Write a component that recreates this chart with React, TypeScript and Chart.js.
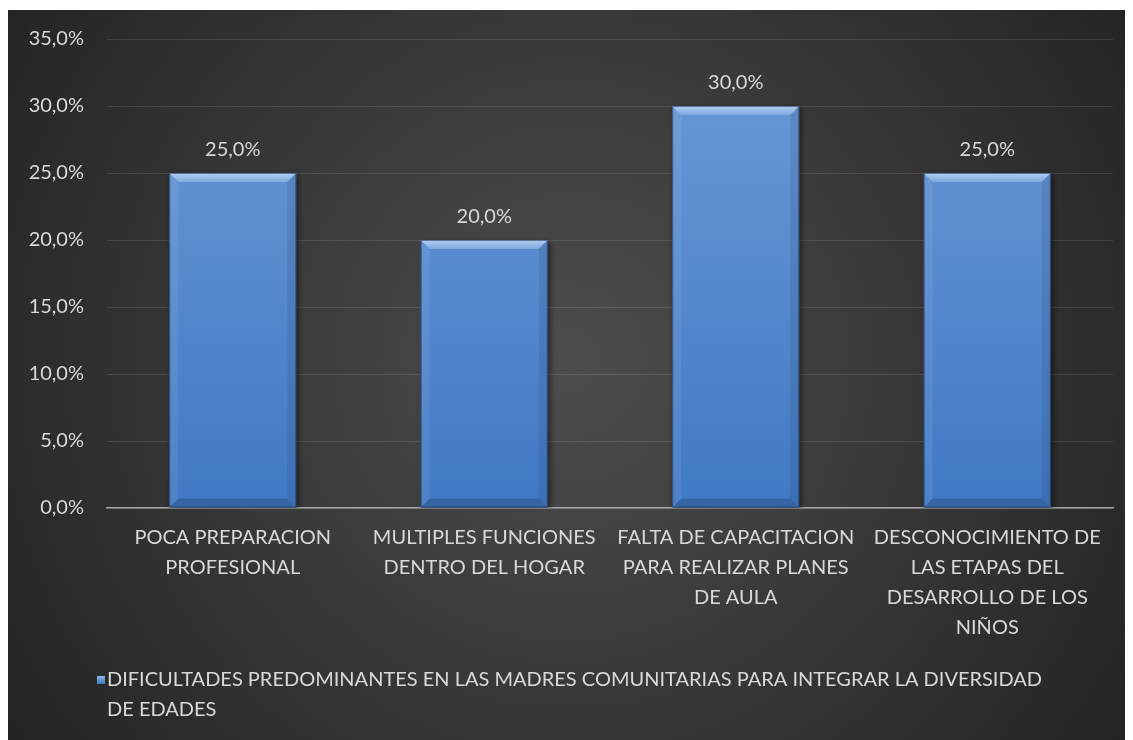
import React, { useEffect, useRef } from "react";
import { Chart, registerables } from "chart.js";

Chart.register(...registerables);

const categories: string[][] = [
  ["POCA PREPARACION", "PROFESIONAL"],
  ["MULTIPLES FUNCIONES", "DENTRO DEL HOGAR"],
  ["FALTA DE CAPACITACION", "PARA REALIZAR PLANES", "DE AULA"],
  ["DESCONOCIMIENTO DE", "LAS ETAPAS DEL", "DESARROLLO DE LOS", "NIÑOS"],
];
const values: number[] = [25, 20, 30, 25];
const seriesLabel =
  "DIFICULTADES PREDOMINANTES EN LAS MADRES COMUNITARIAS PARA INTEGRAR LA DIVERSIDAD DE EDADES";
const yMin = 0;
const yMax = 35;
const yStep = 5;

const FONT = "Lato";
const TEXT = "#d9d9d9";

const fmt = (v: number) => v.toFixed(1).replace(".", ",") + "%";

const bgPlugin = {
  id: "bg",
  beforeDraw(chart: any) {
    const { ctx, width, height } = chart;
    ctx.save();
    const g = ctx.createRadialGradient(width * 0.5, height * 0.48, 0, width * 0.5, height * 0.48, Math.hypot(width, height) / 2);
    g.addColorStop(0, "#4d4d4d");
    g.addColorStop(1, "#242424");
    ctx.fillStyle = g;
    ctx.fillRect(0, 0, width, height);
    ctx.restore();
  },
};

const barFx = {
  id: "barfx",
  beforeDatasetsDraw(chart: any) {
    const ctx = chart.ctx;
    ctx.save();
    ctx.shadowColor = "rgba(0,0,0,0.55)";
    ctx.shadowBlur = 6;
    ctx.shadowOffsetX = 2;
    ctx.shadowOffsetY = 2;
  },
  afterDatasetsDraw(chart: any) {
    const ctx = chart.ctx;
    ctx.restore();
    const meta = chart.getDatasetMeta(0);
    meta.data.forEach((bar: any, i: number) => {
      const p = bar.getProps(["x", "y", "base", "width"], true);
      const l = p.x - p.width / 2;
      const r = p.x + p.width / 2;
      const t = p.y;
      const b = p.base;
      const bv = 9;
      ctx.save();
      const tg = ctx.createLinearGradient(0, t, 0, t + bv);
      tg.addColorStop(0, "#b3cff2");
      tg.addColorStop(1, "#7ea8de");
      ctx.fillStyle = tg;
      ctx.beginPath();
      ctx.moveTo(l, t);
      ctx.lineTo(r, t);
      ctx.lineTo(r - bv, t + bv);
      ctx.lineTo(l + bv, t + bv);
      ctx.closePath();
      ctx.fill();
      ctx.fillStyle = "rgba(255,255,255,0.07)";
      ctx.beginPath();
      ctx.moveTo(l, t);
      ctx.lineTo(l + bv, t + bv);
      ctx.lineTo(l + bv, b - bv);
      ctx.lineTo(l, b);
      ctx.closePath();
      ctx.fill();
      ctx.fillStyle = "rgba(0,0,0,0.08)";
      ctx.beginPath();
      ctx.moveTo(r, t);
      ctx.lineTo(r - bv, t + bv);
      ctx.lineTo(r - bv, b - bv);
      ctx.lineTo(r, b);
      ctx.closePath();
      ctx.fill();
      ctx.fillStyle = "rgba(0,0,0,0.16)";
      ctx.beginPath();
      ctx.moveTo(l, b);
      ctx.lineTo(l + bv, b - bv);
      ctx.lineTo(r - bv, b - bv);
      ctx.lineTo(r, b);
      ctx.closePath();
      ctx.fill();
      ctx.strokeStyle = "rgba(25,45,80,0.55)";
      ctx.lineWidth = 1;
      ctx.strokeRect(l + 0.5, t + 0.5, p.width - 1, b - t - 1);
      ctx.fillStyle = TEXT;
      ctx.font = `20px ${FONT}`;
      ctx.textAlign = "center";
      ctx.textBaseline = "middle";
      ctx.fillText(fmt(values[i]), p.x, t - 23);
      ctx.restore();
    });
  },
};

const legendFx = {
  id: "legendfx",
  afterDraw(chart: any) {
    const { ctx, chartArea } = chart;
    ctx.save();
    ctx.font = `20px ${FONT}`;
    const maxW = 950;
    const words = seriesLabel.split(" ");
    const lines: string[] = [];
    let cur = "";
    words.forEach((w) => {
      const test = cur ? cur + " " + w : w;
      if (ctx.measureText(test).width > maxW && cur) {
        lines.push(cur);
        cur = w;
      } else cur = test;
    });
    if (cur) lines.push(cur);
    const x = chartArea.left;
    const y0 = chartArea.bottom + 172;
    const mg = ctx.createLinearGradient(0, y0 - 4, 0, y0 + 4);
    mg.addColorStop(0, "#8fb4e6");
    mg.addColorStop(1, "#3f76c2");
    ctx.fillStyle = mg;
    ctx.fillRect(x - 10, y0 - 4, 8, 8);
    ctx.fillStyle = TEXT;
    ctx.textAlign = "left";
    ctx.textBaseline = "middle";
    lines.forEach((ln, i) => ctx.fillText(ln, x, y0 + i * 30));
    ctx.restore();
  },
};

export default function App() {
  const ref = useRef<HTMLCanvasElement>(null);
  useEffect(() => {
    if (!ref.current) return;
    const chart = new Chart(ref.current, {
      type: "bar",
      data: {
        labels: categories,
        datasets: [
          {
            label: seriesLabel,
            data: values,
            backgroundColor: (c: any) => {
              const ca = c.chart.chartArea;
              if (!ca) return "#5b8fd3";
              const g = c.chart.ctx.createLinearGradient(0, ca.top, 0, ca.bottom);
              g.addColorStop(0, "#6d9ad7");
              g.addColorStop(1, "#4179c4");
              return g;
            },
            borderWidth: 0,
            barPercentage: 0.505,
            categoryPercentage: 1,
          },
        ],
      },
      options: {
        animation: false,
        responsive: false,
        layout: { padding: { top: 29, right: 18, bottom: 97, left: 0 } },
        plugins: {
          legend: { display: false },
          tooltip: { enabled: false },
        },
        scales: {
          x: {
            grid: { display: false, drawTicks: false },
            border: { display: true, color: "#a6a6a6", width: 1.5 },
            ticks: {
              color: TEXT,
              font: { family: FONT, size: 20, lineHeight: 1.5 },
              padding: 15,
              autoSkip: false,
              maxRotation: 0,
              minRotation: 0,
            },
            afterFit: (s: any) => {
              s.height = 135;
            },
          },
          y: {
            min: yMin,
            max: yMax,
            grid: {
              color: "rgba(255,255,255,0.1)",
              lineWidth: 1,
              drawTicks: true,
              tickLength: 19,
              tickColor: "rgba(0,0,0,0)",
            },
            border: { display: false },
            ticks: {
              stepSize: yStep,
              color: TEXT,
              font: { family: FONT, size: 20 },
              padding: 4,
              callback: (v: any) => fmt(Number(v)),
            },
            afterFit: (s: any) => {
              s.width = 99;
            },
          },
        },
      },
      plugins: [bgPlugin, barFx, legendFx],
    });
    return () => chart.destroy();
  }, []);
  return (
    <div style={{ paddingTop: 2 }}>
      <canvas ref={ref} width={1123} height={730} style={{ display: "block", width: 1123, height: 730 }} />
    </div>
  );
}
